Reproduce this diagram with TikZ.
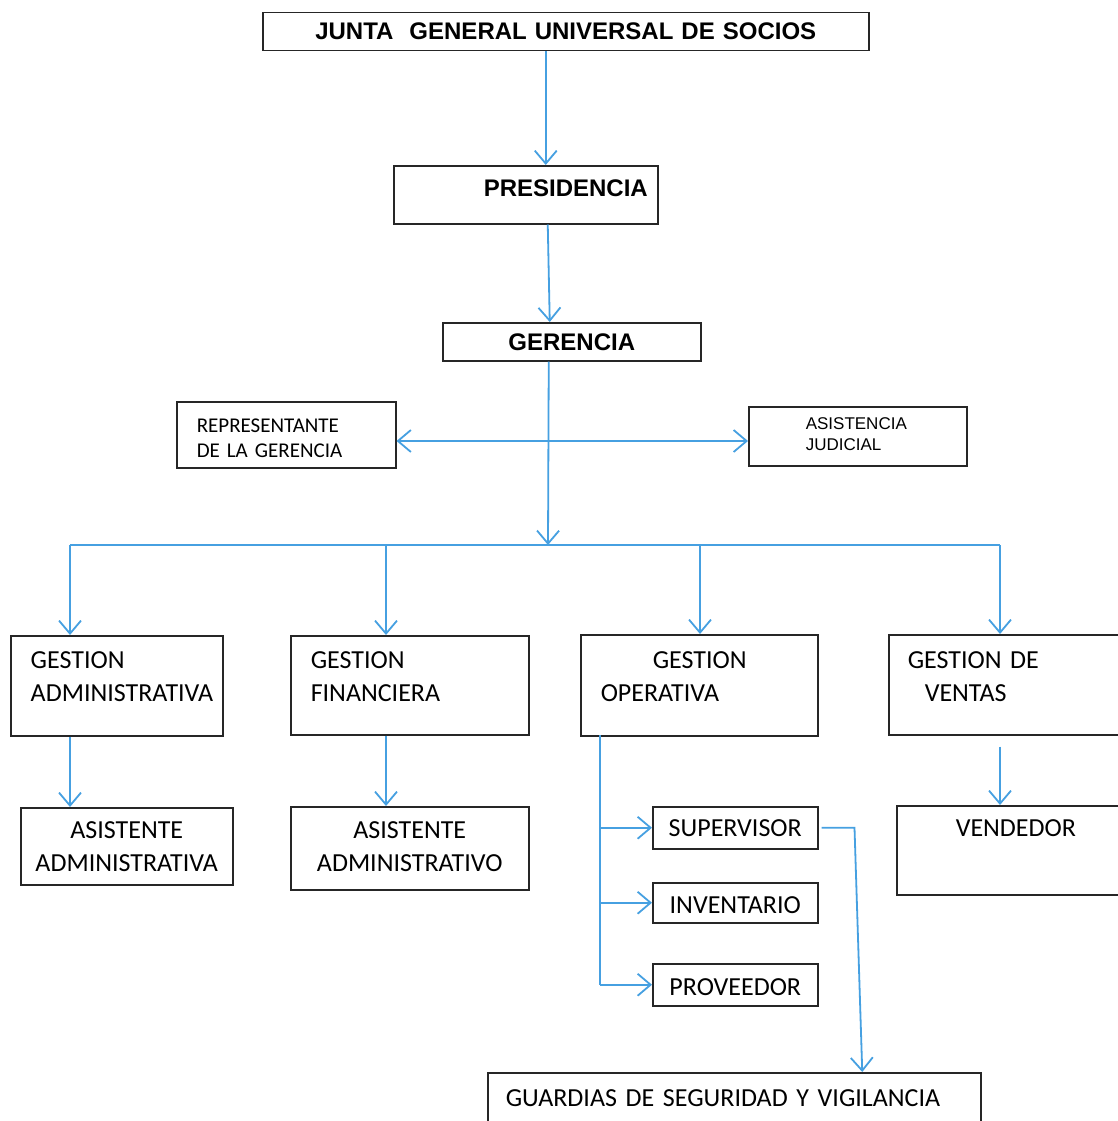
\documentclass[tikz,border=0pt]{standalone}
\usepackage{fontspec}
\setmainfont{Carlito}
\newfontfamily\arialf{Liberation Sans}
\usepackage{tikz}
\usetikzlibrary{arrows.meta,positioning,calc}
\definecolor{lineblue}{RGB}{70,160,225}

\begin{document}
\begin{tikzpicture}[
            x=1pt, y=-1pt,
            box/.style={
                draw=black!85,
                line width=1.5pt,
                inner sep=0pt,
                anchor=north west,
                align=left,
                font=\fontsize{26}{33}\selectfont
            },
            head/.style={box,align=center,font=\arialf\bfseries\fontsize{24}{28}\selectfont},
            small/.style={box,font=\fontsize{21}{25}\selectfont},
            tiny/.style={box,font=\arialf\fontsize{17}{21}\selectfont},
            arr/.style={draw=lineblue,line width=1.8pt,
                -{Straight Barb[length=13pt,width=22pt,line width=1.8pt]}},
            arrs/.style={arr,{Straight Barb[length=13pt,width=22pt,line width=1.8pt]}-{Straight Barb[length=13pt,width=22pt,line width=1.8pt]}},
            link/.style={draw=lineblue,line width=1.8pt}
        ]
            \fill[white] (0,0) rectangle (1118,1121);
            \useasboundingbox (0,0) rectangle (1118,1121);
            \clip (0,0) rectangle (1118,1121);

            \node[head,text width=606pt,text height=27pt,text depth=11pt] (junta) at (262,12)
            {JUNTA\ \ GENERAL UNIVERSAL DE SOCIOS};
            \node[head,align=left,text width=264pt,text height=31pt,text depth=27pt] (pres) at (393,165)
            {\hspace*{90pt}PRESIDENCIA};
            \node[head,text width=258pt,text height=28pt,text depth=10pt] (ger) at (442,322)
            {GERENCIA};

            \node[small,text width=219pt,text height=31pt,text depth=35pt] (rep) at (176,401)
            {\hspace*{20pt}REPRESENTANTE\\\hspace*{20pt}DE LA GERENCIA};
            \node[tiny,text width=218pt,text height=23pt,text depth=36pt] (asis) at (748,406)
            {\hspace*{57pt}ASISTENCIA\\\hspace*{57pt}JUDICIAL};

            \node[box,text width=212pt,text height=33pt,text depth=67pt] (adm) at (10,635)
            {\hspace*{20pt}GESTION\\\hspace*{20pt}ADMINISTRATIVA};
            \node[box,text width=238pt,text height=33pt,text depth=66pt] (fin) at (290,635)
            {\hspace*{20pt}GESTION\\\hspace*{20pt}FINANCIERA};
            \node[box,text width=237pt,text height=34pt,text depth=67pt] (ope) at (580,634)
            {\hspace*{72pt}GESTION\\\hspace*{20pt}OPERATIVA};
            \node[box,text width=250pt,text height=34pt,text depth=66pt] (ven) at (888,634)
            {\hspace*{19pt}GESTION DE\\\hspace*{36pt}VENTAS};

            \node[box,align=center,text width=212pt,text height=31pt,text depth=46pt] (asa) at (20,807)
            {ASISTENTE\\ADMINISTRATIVA};
            \node[box,align=center,text width=238pt,text height=32pt,text depth=51pt] (aso) at (290,806)
            {ASISTENTE\\ADMINISTRATIVO};
            \node[box,text width=240pt,text height=31pt,text depth=58pt] (vend) at (896,805)
            {\hspace*{59pt}VENDEDOR};

            \node[box,align=center,text width=165pt,text height=30pt,text depth=12pt] (sup) at (652,806)
            {SUPERVISOR};
            \node[box,align=center,text width=165pt,text height=31pt,text depth=9pt] (inv) at (652,882)
            {INVENTARIO};
            \node[box,align=center,text width=165pt,text height=32pt,text depth=10pt] (prov) at (652,963)
            {PROVEEDOR};
            \node[box,text width=493pt,text height=34pt,text depth=40pt] (guard) at (487,1072)
            {\hspace*{18pt}GUARDIAS DE SEGURIDAD Y VIGILANCIA};

            \coordinate (mid) at (548,441);
            \coordinate (bus) at (548,545);
            \coordinate (b1) at (70,545);
            \coordinate (b2) at (386,545);
            \coordinate (b3) at (700,545);
            \coordinate (b4) at (1000,545);
            \coordinate (otr) at (600,735);

            \draw[arr] ([xshift=-20pt]junta.south) -- ([xshift=20pt]pres.north);
            \draw[arr] ([xshift=22pt]pres.south) -- ([xshift=-22pt]ger.north);
            \draw[arr] ([xshift=-23pt]ger.south) -- (bus);
            \draw[arrs] (mid -| rep.east) -- (mid -| asis.west);
            \draw[link] (b1) -- (b4);
            \foreach \b/\n in {b1/adm,b2/fin,b3/ope,b4/ven}
                \draw[arr] (\b) -- (\b |- \n.north);

            \draw[arr] (b1 |- adm.south) -- (b1 |- asa.north);
            \draw[arr] (b2 |- fin.south) -- (b2 |- aso.north);
            \draw[arr] ([yshift=-11pt]b4 |- ven.south) -- (b4 |- vend.north);

            \draw[link] (otr) -- (otr |- prov.west);
            \foreach \n in {sup,inv,prov}
                \draw[arr] (otr |- \n.west) -- (\n.west);
            \draw[arr] ([xshift=3pt]sup.east) -- ++(33pt,0pt) -- ([xshift=128pt]guard.north);
        \end{tikzpicture}
\end{document}
